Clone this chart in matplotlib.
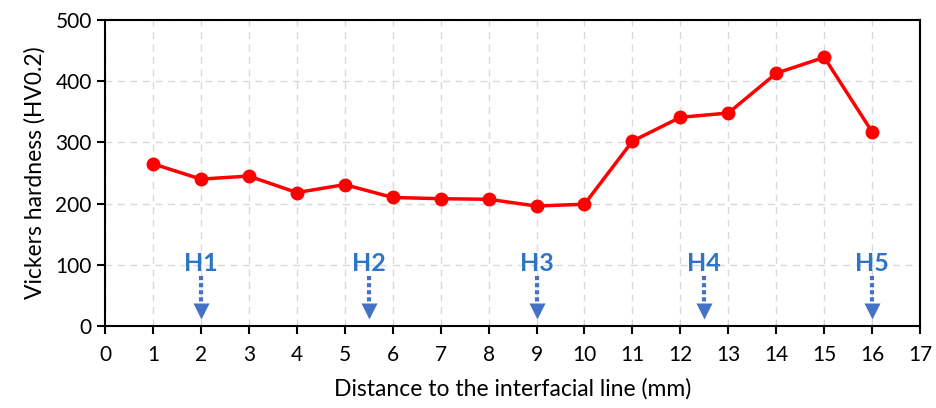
import matplotlib
matplotlib.use("Agg")
import matplotlib.pyplot as plt

distance = [1, 2, 3, 4, 5, 6, 7, 8, 9, 10, 11, 12, 13, 14, 15, 16]
hardness = [265, 240, 245, 218, 231, 210, 208, 207, 196, 199, 302, 341, 348, 413, 439, 317]
zone_labels = ["H1", "H2", "H3", "H4", "H5"]
zone_positions = [2, 5.5, 9, 12.5, 16]

plt.rcParams['font.family'] = ['Lato', 'DejaVu Sans']

fig = plt.figure(figsize=(9.37, 4.08), dpi=100)
ax = fig.add_axes([0.112, 0.201, 0.870, 0.750])

ax.plot(distance, hardness, color='#FF0000', lw=2.5, marker='o', ms=9, zorder=3)

for lab, xp in zip(zone_labels, zone_positions):
    ax.text(xp, 102, lab, color='#2E75C6', fontsize=18, fontweight='bold',
            ha='center', va='center', zorder=4)
    ax.plot([xp, xp], [82, 36], color='#4472C4', lw=3,
            linestyle=(0, (1, 0.7)), solid_capstyle='butt', zorder=4)
    ax.plot([xp], [25], marker='v', ms=11, color='#4472C4', mec='none', zorder=4)

ax.set_xlim(0, 17)
ax.set_ylim(0, 500)
ax.set_xticks(range(0, 18))
ax.set_yticks(range(0, 501, 100))
ax.grid(True, color='#D9D9D9', linestyle=(0, (5, 4)), lw=1)
ax.set_axisbelow(True)
for s in ax.spines.values():
    s.set_color('black')
    s.set_linewidth(1.5)
ax.tick_params(axis='both', direction='out', length=6, width=1.5, labelsize=15)
ax.tick_params(axis='x', pad=8)
ax.set_xlabel('Distance to the interfacial line (mm)', fontsize=16.5, labelpad=9)
ax.set_ylabel('Vickers hardness (HV0.2)', fontsize=16.5, labelpad=7)

fig.savefig('out.png', dpi=100)
